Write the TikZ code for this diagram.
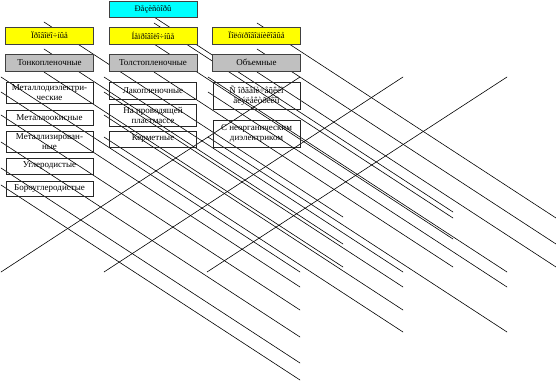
\documentclass[tikz,border=0pt]{standalone}
\usepackage{fontspec}
\setmainfont{Liberation Serif}
\usepackage{tkz-euclide}
\usepackage{tikz}

\definecolor{rootcyan}{RGB}{0,255,255}
\definecolor{kindyellow}{RGB}{255,255,0}
\definecolor{techgray}{RGB}{192,192,192}

\tikzset{
  headbox/.style={draw=black!75, line width=1pt, minimum width=88pt, minimum height=17pt,
    inner sep=1pt, font=\fontsize{8.5}{9}\selectfont},
  itembox/.style={draw=black!85, line width=0.8pt, minimum width=87pt, inner sep=1pt,
    align=center, font=\fontsize{9}{10}\selectfont},
  wire/.style={black, line width=0.6pt}
}

\begin{document}
\begin{tikzpicture}[x=1pt, y=-1pt]
    \useasboundingbox (0,0) rectangle (556,381);
    % stray segments
    \tkzDefPoints{1/77/A1,1/92/A2,1/115/A3,1/142/A4,1/168/A5,1/185/A6,44/22/A7,44/49/A8,44/72/A9}
    \tkzDefPoints{300/272/B1,300/287/B2,300/310/B3,300/337/B4,300/363/B5,300/380/B6,343/217/B7,343/244/B8,343/267/B9}
    \tkzDefPoints{104/77/C1,104/92/C2,104/115/C3,104/137/C4,154/17/C5,154/23/C6,154/44/C7,154/72/C8}
    \tkzDefPoints{403/272/D1,403/287/D2,403/310/D3,403/332/D4,453/212/D5,453/218/D6,453/239/D7,453/267/D8}
    \tkzDefPoints{208/77/E1,208/92/E2,208/137/E3,257/23/E4,257/49/E5,257/72/E6}
    \tkzDefPoints{507/272/F1,507/287/F2,507/332/F3,556/218/F4,556/244/F5,556/267/F6}
    \tkzDefPoints{1/272/G1,104/272/G2,207/272/G3,300/77/H1,403/77/H2,507/77/H3}
    \tkzDrawSegments[wire](A1,B1 A2,B2 A3,B3 A4,B4 A5,B5 A6,B6 A7,B7 A8,B8 A9,B9)
    \tkzDrawSegments[wire](C1,D1 C2,D2 C3,D3 C4,D4 C5,D5 C6,D6 C7,D7 C8,D8)
    \tkzDrawSegments[wire](E1,F1 E2,F2 E3,F3 E4,F4 E5,F5 E6,F6)
    \tkzDrawSegments[wire](G1,H1 G2,H2 G3,H3)

    % top levels
    \node[headbox, fill=rootcyan, minimum height=16pt] (res) at (153,9) {Ðåçèñòîðû};
    \node[headbox, fill=kindyellow] (wire1) at (49.5,35.5) {Ïðîâîëî÷íûå};
    \node[headbox, fill=kindyellow] (nwire) at (153,35.5) {Íåïðîâîëî÷íûå};
    \node[headbox, fill=kindyellow] (semi) at (256.5,35.5) {Ïîëóïðîâîäíèêîâûå};
    \node[headbox, fill=techgray, font=\fontsize{9}{10}\selectfont] (thin) at (49.5,62.5) {Тонкопленочные};
    \node[headbox, fill=techgray, font=\fontsize{9}{10}\selectfont] (thick) at (153,62.5) {Толстопленочные};
    \node[headbox, fill=techgray, font=\fontsize{9}{10}\selectfont] (bulk) at (256.5,62.5) {Объемные};

    % thin film
    \node[itembox, minimum height=21pt] (mdiel) at (49.5,92.5) {Металлодиэлектри-\\ческие};
    \node[itembox, minimum height=15pt] (moks) at (49.5,117.5) {Металлоокисные};
    \node[itembox, minimum height=21pt] (mmet) at (49.5,141.5) {Металлизирован-\\ные};
    \node[itembox, minimum height=16pt] (carb) at (49.5,166) {Углеродистые};
    \node[itembox, minimum height=15pt] (bcarb) at (49.5,188.5) {Бороуглеродистые};
    % thick film
    \node[itembox, minimum height=17pt] (lak) at (153,90.5) {Лакопленочные};
    \node[itembox, minimum height=22pt] (plast) at (153,115) {На проводящей\\пластмассе};
    \node[itembox, minimum height=16pt] (kerm) at (153,139) {Керметные};
    % bulk
    \node[itembox, minimum height=27pt] (org) at (256.5,95.5) {Ñ îðãàíè÷åñêèì\\äèýëåêòðèêîì};
    \node[itembox, minimum height=27pt] (norg) at (256.5,133.5) {С неорганическим\\диэлектриком};
\end{tikzpicture}
\end{document}
